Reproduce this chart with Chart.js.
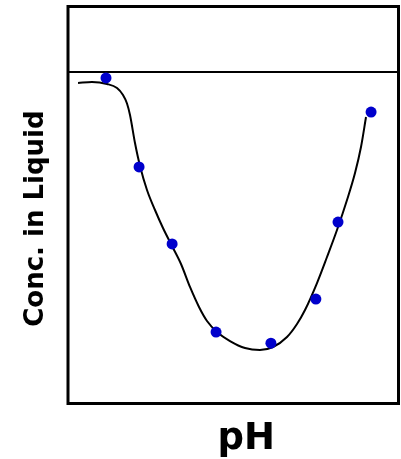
<!DOCTYPE html>
<html><head><meta charset="utf-8">
<script src="https://cdn.jsdelivr.net/npm/chart.js@4/dist/chart.umd.min.js"></script>
<style>html,body{margin:0;padding:0;background:#fff;overflow:hidden}</style>
</head><body>
<canvas id="c" width="401" height="459"></canvas>
<script>
// Measured data points (arbitrary units: x = pH position, y = concentration)
const pointX = [11.5, 21.5, 31.5, 44.8, 61.4, 75.0, 81.7, 91.7];
const pointY = [82.0, 59.6, 40.2, 18.0, 15.2, 26.3, 45.7, 73.4];
// Hand-drawn fitted curve
const curveX = [3.03, 7.26, 11.80, 14.83, 16.64, 17.85, 18.76, 20.27, 21.79, 23.90, 26.32, 28.74, 31.47, 34.19, 36.91, 39.64, 42.06, 45.08, 49.02, 53.56, 58.09, 62.03, 66.26, 69.29, 71.71, 75.34, 78.37, 81.39, 84.42, 86.84, 88.65, 90.17];
const curveY = [80.73, 80.98, 80.48, 79.47, 77.71, 75.57, 72.67, 65.62, 59.82, 53.78, 48.74, 44.21, 39.67, 35.14, 29.35, 24.31, 20.78, 18.01, 15.74, 13.98, 13.48, 14.23, 16.75, 20.03, 23.55, 30.35, 36.90, 43.70, 51.26, 58.06, 64.61, 72.17];
// Reference (initial) concentration level
const refX = [0, 100];
const refY = [83.5, 83.5];
const xTitle = '  pH';
const yTitle = 'Conc. in Liquid   ';

const toXY = (xs, ys) => xs.map((x, i) => ({x, y: ys[i]}));

const framePlugin = {
  id: 'frame',
  afterDraw(chart) {
    const {ctx, chartArea: a} = chart;
    ctx.save();
    ctx.strokeStyle = '#000';
    ctx.lineWidth = 3;
    ctx.strokeRect(a.left, a.top, a.right - a.left, a.bottom - a.top);
    ctx.restore();
  }
};

new Chart(document.getElementById('c'), {
  type: 'scatter',
  data: {
    datasets: [
      {
        data: toXY(pointX, pointY),
        backgroundColor: '#0000cc',
        borderColor: '#0000cc',
        pointRadius: 5.5,
        pointBorderWidth: 0,
        showLine: false
      },
      {
        data: toXY(curveX, curveY),
        borderColor: '#000',
        borderWidth: 2,
        pointRadius: 0,
        showLine: true,
        cubicInterpolationMode: 'monotone'
      },
      {
        data: toXY(refX, refY),
        borderColor: '#000',
        borderWidth: 2,
        pointRadius: 0,
        showLine: true
      }
    ]
  },
  options: {
    responsive: false,
    animation: false,
    events: [],
    layout: {autoPadding: false, padding: {top: 6.5, right: 2.5, left: 0, bottom: 0}},
    plugins: {legend: {display: false}, tooltip: {enabled: false}},
    scales: {
      x: {
        type: 'linear', min: 0, max: 100,
        grid: {display: false}, border: {display: false},
        ticks: {display: false},
        title: {display: true, text: xTitle, color: '#000',
          font: {family: 'DejaVu Sans', weight: 'bold', size: 37, lineHeight: 1},
          padding: {top: 0, bottom: 1.5}},
        afterFit(s) { s.height = 55.5; }
      },
      y: {
        type: 'linear', min: 0, max: 100,
        grid: {display: false}, border: {display: false},
        ticks: {display: false},
        title: {display: true, text: yTitle, color: '#000',
          font: {family: 'DejaVu Sans', weight: 'bold', size: 26, lineHeight: 1},
          padding: {top: 23, bottom: 0}},
        afterFit(s) { s.width = 68; }
      }
    }
  },
  plugins: [framePlugin]
});
</script>
</body></html>
